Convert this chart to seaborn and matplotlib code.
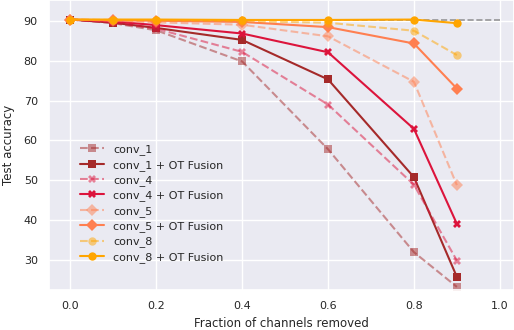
import matplotlib
matplotlib.use("Agg")
import matplotlib.pyplot as plt
import seaborn as sns
import pandas as pd

sns.set_theme(style="darkgrid")

fractions = [0.0, 0.1, 0.2, 0.4, 0.6, 0.8, 0.9]
baseline_acc = 90.3

conv_1 = [90.3, 89.4, 87.6, 79.8, 57.8, 32.0, 23.3]
conv_1_ot = [90.3, 89.5, 88.2, 85.2, 75.3, 50.8, 25.8]
conv_4 = [90.3, 89.6, 88.0, 82.2, 69.0, 48.9, 29.9]
conv_4_ot = [90.3, 89.8, 88.9, 86.8, 82.1, 62.9, 39.1]
conv_5 = [90.3, 90.0, 89.6, 89.0, 86.1, 74.7, 48.8]
conv_5_ot = [90.3, 90.1, 90.0, 89.7, 88.4, 84.3, 73.0]
conv_8 = [90.3, 90.2, 90.1, 89.9, 89.5, 87.5, 81.4]
conv_8_ot = [90.3, 90.3, 90.3, 90.2, 90.2, 90.3, 89.4]

layers = ["conv_1", "conv_4", "conv_5", "conv_8"]
colors = {"conv_1": "#a52a2a", "conv_4": "#dc143c", "conv_5": "#ff7f50", "conv_8": "#ffa500"}
markers = {"conv_1": "s", "conv_4": "X", "conv_5": "D", "conv_8": "o"}
plain = {"conv_1": conv_1, "conv_4": conv_4, "conv_5": conv_5, "conv_8": conv_8}
fused = {"conv_1": conv_1_ot, "conv_4": conv_4_ot, "conv_5": conv_5_ot, "conv_8": conv_8_ot}

fig, ax = plt.subplots(figsize=(5.14, 3.3), dpi=100)
fig.subplots_adjust(left=0.095, right=1.0, top=1.0, bottom=0.121)

ax.plot([0.0, 1.0], [baseline_acc, baseline_acc], color="grey", ls="--", lw=1.2, alpha=0.8, zorder=1)

for name in layers:
    df = pd.DataFrame({"x": fractions, "plain": plain[name], "fused": fused[name]})
    sns.lineplot(data=df, x="x", y="plain", ax=ax, color=colors[name], marker=markers[name],
                 ls="--", alpha=0.5, lw=1.5, markersize=6, markeredgewidth=0,
                 label=name)
    sns.lineplot(data=df, x="x", y="fused", ax=ax, color=colors[name], marker=markers[name],
                 lw=1.5, markersize=6, markeredgewidth=0,
                 label=name + " + OT Fusion")

ax.set_xlim(-0.05, 1.033)
ax.set_ylim(22.5, 95.2)
ax.set_xticks([0.0, 0.2, 0.4, 0.6, 0.8, 1.0])
ax.set_yticks([30, 40, 50, 60, 70, 80, 90])
ax.tick_params(labelsize=8, pad=2)
ax.set_xlabel("Fraction of channels removed", fontsize=8.5, labelpad=4)
ax.set_ylabel("Test accuracy", fontsize=8.5, labelpad=6)
ax.legend(loc="lower left", bbox_to_anchor=(0.045, 0.06), frameon=False, fontsize=8,
          handlelength=2.2, labelspacing=0.4)

fig.savefig("out.png", dpi=100)
